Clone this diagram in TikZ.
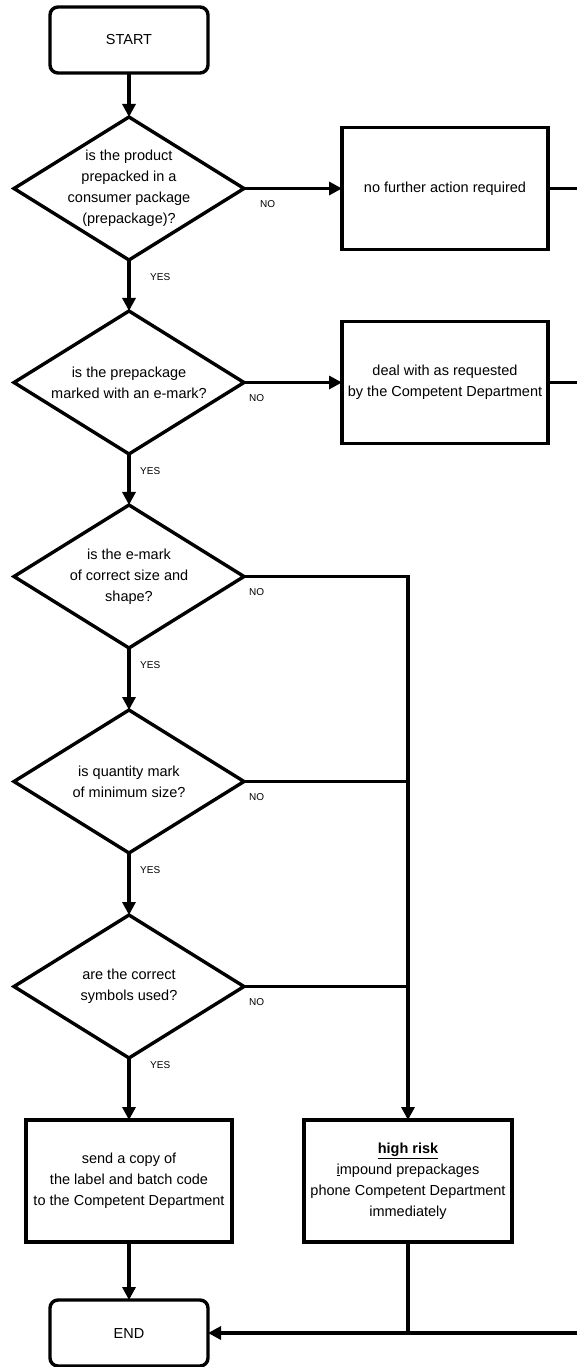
\documentclass[tikz,border=0pt]{standalone}
\usepackage{fontspec}
\setmainfont{Liberation Sans}
\usetikzlibrary{shapes.geometric,positioning,arrows.meta}
\tikzset{
  flowterm/.style={draw,rounded corners=8pt,line width=3.4pt,align=center,minimum width=158pt,minimum height=66pt,outer sep=0pt},
  flowdec/.style={draw,diamond,aspect=1.6,line width=3.4pt,align=center,inner sep=-6pt,minimum width=230pt,minimum height=143pt,outer sep=0pt},
  flowbox/.style={draw,rectangle,line width=3.8pt,align=center,minimum width=206pt,minimum height=122pt,outer sep=0pt},
  flowline/.style={line width=3.2pt},
  flowarr/.style={-{Triangle[length=13pt,width=13pt]},line width=3.2pt},
  ynlabel/.style={font=\fontsize{10}{12}\selectfont,inner sep=0pt}
}
\begin{document}
\begin{tikzpicture}[x=1pt,y=-1pt,every node/.style={font=\fontsize{14.5}{21}\selectfont}]
  \useasboundingbox (0,0) rectangle (576,1367);
  % main column of questions
  \node[flowterm] (start) at (129,40) {START};
  \node[flowdec,below=44pt of start] (d1) {is the product\\prepacked in a\\consumer package\\(prepackage)?};
  \node[flowdec,below=51pt of d1] (d2) {is the prepackage\\marked with an e-mark?};
  \node[flowdec,below=51pt of d2] (d3) {is the e-mark\\of correct size and\\shape?};
  \node[flowdec,below=62pt of d3] (d4) {is quantity mark\\of minimum size?};
  \node[flowdec,below=62pt of d4] (d5) {are the correct\\symbols used?};
  \node[flowbox,below=62pt of d5] (send) {send a copy of\\the label and batch code\\to the Competent Department};
  \node[flowbox,right=72pt of send,minimum width=208pt] (risk) {\underline{\textbf{high risk}}\\\underline{i}mpound prepackages\\phone Competent Department\\immediately};
  \node[flowterm,below=58pt of send] (stop) {END};
  % side boxes
  \node[flowbox,right=98pt of d1] (nofurther) {no further action required};
  \node[flowbox,right=98pt of d2] (asked) {deal with as requested\\by the Competent Department};
  % answers
  \node[ynlabel,below right=12pt and 16pt of d1.east] (no1) {NO};
  \node[ynlabel,below right=12pt and 5pt of d2.east] (no2) {NO};
  \node[ynlabel,below right=12pt and 5pt of d3.east] (no3) {NO};
  \node[ynlabel,below right=12pt and 5pt of d4.east] (no4) {NO};
  \node[ynlabel,below right=12pt and 5pt of d5.east] (no5) {NO};
  \node[ynlabel,below right=13pt and 21pt of d1.south] (yes1) {YES};
  \node[ynlabel,below right=13pt and 11pt of d2.south] (yes2) {YES};
  \node[ynlabel,below right=13pt and 11pt of d3.south] (yes3) {YES};
  \node[ynlabel,below right=13pt and 11pt of d4.south] (yes4) {YES};
  \node[ynlabel,below right=3pt and 21pt of d5.south] (yes5) {YES};
  % lines leaving at the right edge
  \coordinate (rim) at (578,0);
  \coordinate (out1) at (nofurther.east -| rim);
  \coordinate (out2) at (asked.east -| rim);
  \coordinate (back) at (stop -| rim);
  % connectors
  \draw[flowarr] (start) -- (d1);
  \foreach \a/\b in {d1/d2,d2/d3,d3/d4,d4/d5,d5/send,send/stop}
    \draw[flowarr] (\a) -- (\b);
  \draw[flowarr] (d1) -- (nofurther);
  \draw[flowarr] (d2) -- (asked);
  \draw[flowline] (nofurther) -- (out1);
  \draw[flowline] (asked) -- (out2);
  \draw[flowarr] (d3) -| (risk);
  \draw[flowline] (d4.east) -- (d4.east -| risk);
  \draw[flowline] (d5.east) -- (d5.east -| risk);
  \draw[flowline] (risk) -- (risk |- stop);
  \draw[flowarr] (back) -- (stop);
\end{tikzpicture}
\end{document}
